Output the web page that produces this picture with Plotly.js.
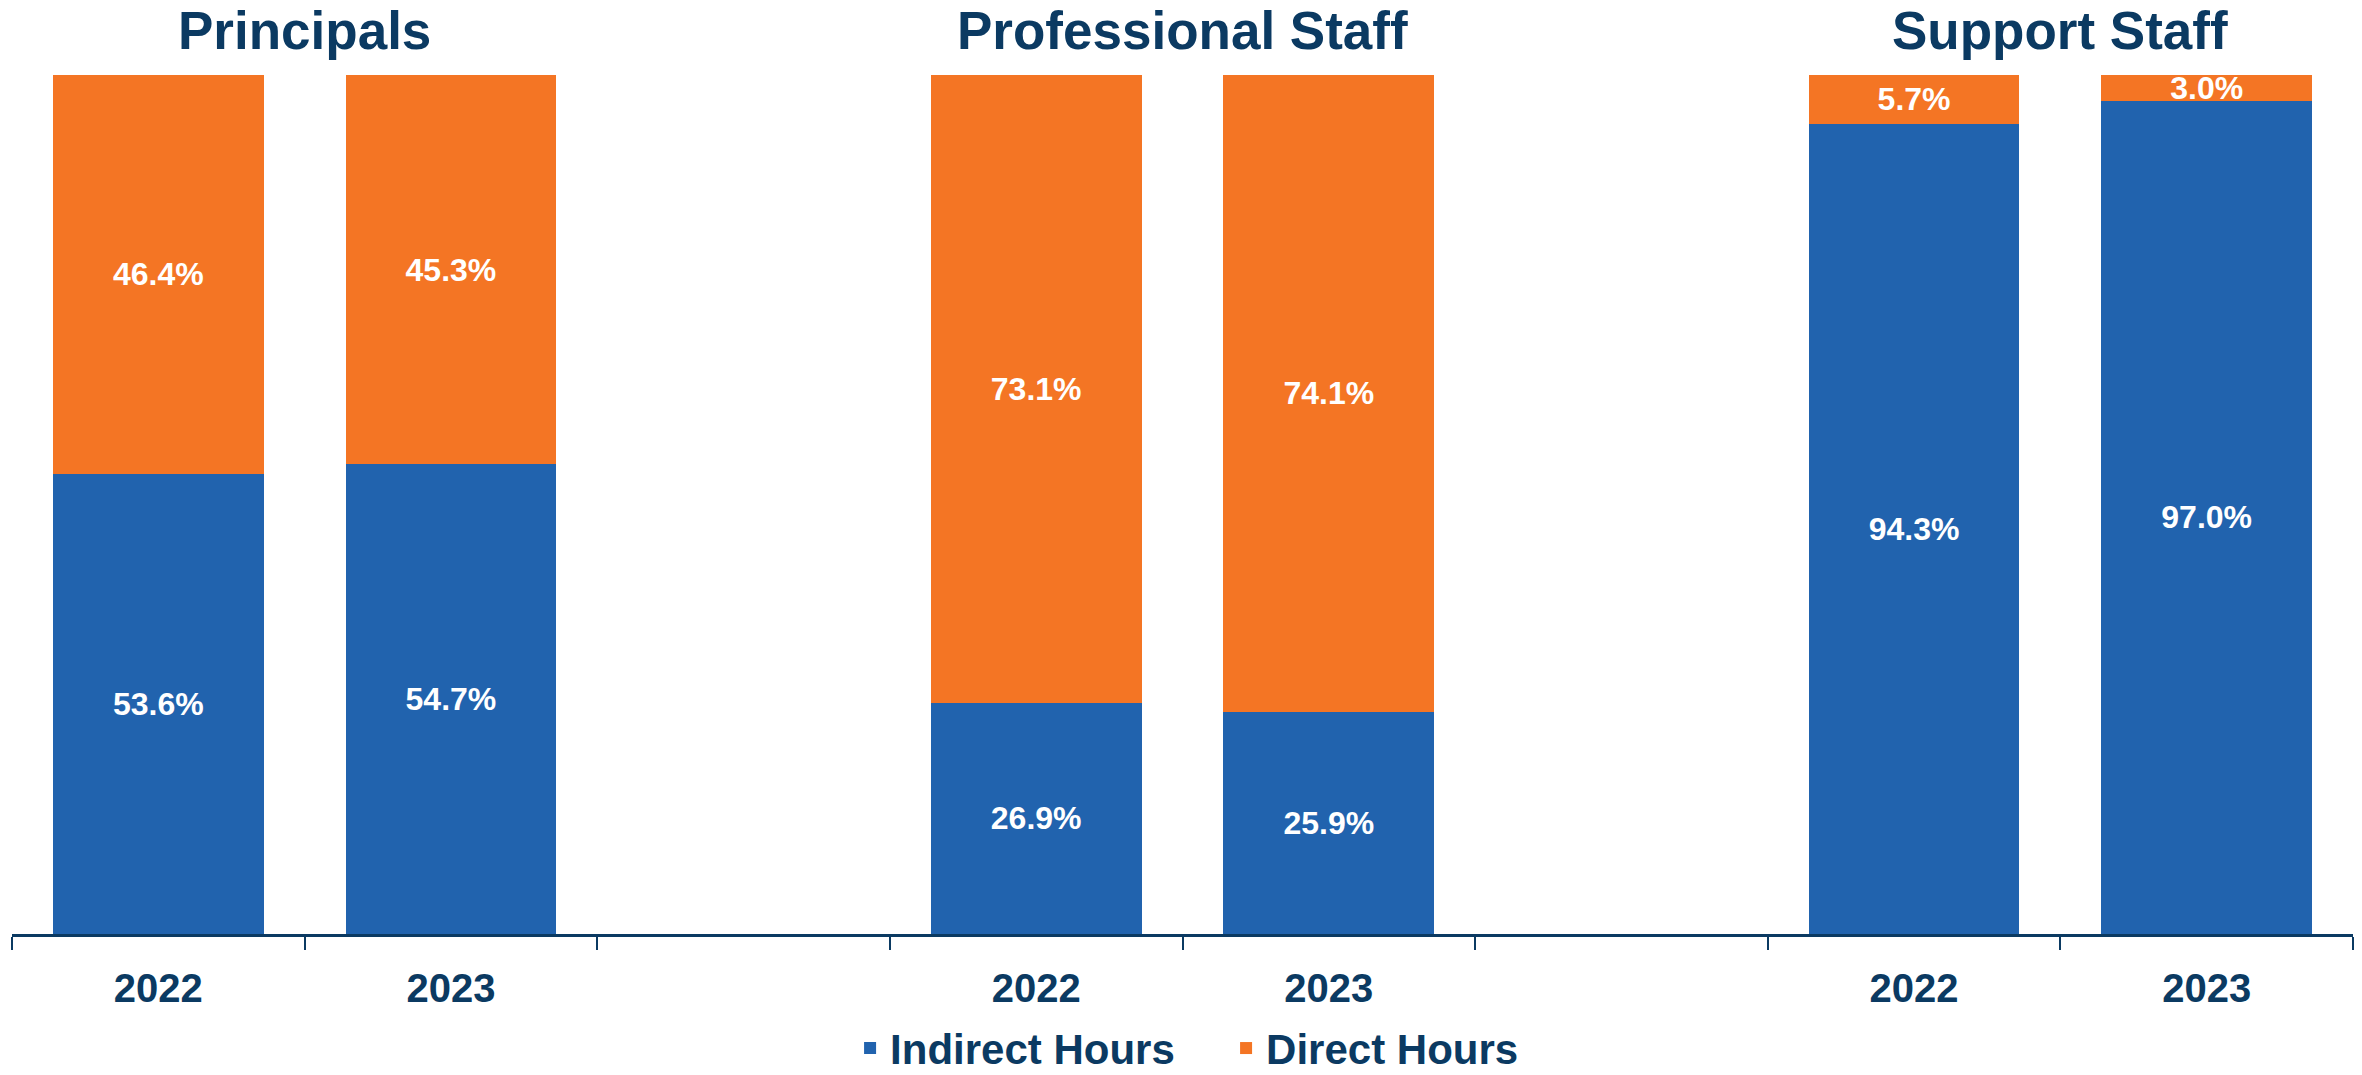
<!DOCTYPE html>
<html>
<head>
<meta charset="utf-8">
<script src="https://cdn.plot.ly/plotly-3.0.1.min.js"></script>
<style>html,body{margin:0;padding:0;background:#fff;}#chart{width:2362px;height:1075px;}</style>
</head>
<body>
<div id="chart"></div>
<script>
// Slots along the x axis (gap slots separate the three groups)
const slotKeys = ['p2022', 'p2023', 'gap1', 'f2022', 'f2023', 'gap2', 's2022', 's2023'];
const slotLabels = ['2022', '2023', '', '2022', '2023', '', '2022', '2023'];
const groupTitles = ['Principals', 'Professional Staff', 'Support Staff'];
const groupCenters = [0.5, 3.5, 6.5];
const indirectHours = [53.6, 54.7, null, 26.9, 25.9, null, 94.3, 97.0];
const directHours = [46.4, 45.3, null, 73.1, 74.1, null, 5.7, 3.0];

const navy = '#0B3A62';
const blue = '#2163AE';
const orange = '#F47524';
const fontFam = 'Liberation Sans, Arial, sans-serif';

function labels(arr) { return arr.map(v => v == null ? '' : v.toFixed(1) + '%'); }

const traces = [
  {
    type: 'bar', name: 'Indirect Hours', x: slotKeys, y: indirectHours,
    marker: {color: blue}, text: labels(indirectHours), textposition: 'inside',
    insidetextanchor: 'middle', textangle: 0, constraintext: 'none',
    textfont: {family: fontFam, size: 32, color: '#ffffff', weight: 'bold'},
    hoverinfo: 'none'
  },
  {
    type: 'bar', name: 'Direct Hours', x: slotKeys, y: directHours,
    marker: {color: orange}, text: labels(directHours), textposition: 'inside',
    insidetextanchor: 'middle', textangle: 0, constraintext: 'none',
    textfont: {family: fontFam, size: 32, color: '#ffffff', weight: 'bold'},
    hoverinfo: 'none'
  }
];

const annotations = groupTitles.map((t, i) => ({
  text: t, x: groupCenters[i], xref: 'x', y: 1 + 45 / 859, yref: 'paper',
  xanchor: 'center', yanchor: 'middle', showarrow: false,
  font: {family: fontFam, size: 53, color: navy, weight: 'bold'}
}));

const layout = {
  width: 2362, height: 1075,
  margin: {l: 12, r: 9, t: 75, b: 141, autoexpand: false},
  paper_bgcolor: '#ffffff', plot_bgcolor: '#ffffff',
  barmode: 'stack', bargap: 0.28,
  uniformtext: {mode: 'show', minsize: 32},
  xaxis: {
    type: 'category', categoryorder: 'array', categoryarray: slotKeys,
    tickmode: 'array', tickvals: slotKeys, ticktext: slotLabels,
    tickson: 'boundaries', ticks: 'outside', ticklen: 13, tickwidth: 2, tickcolor: navy,
    showline: true, linecolor: navy, linewidth: 3, showgrid: false, zeroline: false,
    range: [-0.5, 7.5], ticklabelstandoff: 17, automargin: false,
    tickfont: {family: fontFam, size: 40, color: navy, weight: 'bold'}
  },
  yaxis: {range: [0, 100], visible: false, showgrid: false, zeroline: false, fixedrange: true},
  showlegend: true,
  legend: {
    orientation: 'h', traceorder: 'normal', x: 0.358, xanchor: 'left', y: -0.133, yanchor: 'middle',
    font: {family: fontFam, size: 42, color: navy, weight: 'bold'},
    itemwidth: 30, tracegroupgap: 0, entrywidth: 331, entrywidthmode: 'pixels'
  },
  annotations: annotations
};

Plotly.newPlot('chart', traces, layout, {displayModeBar: false, staticPlot: true});
</script>
</body>
</html>
